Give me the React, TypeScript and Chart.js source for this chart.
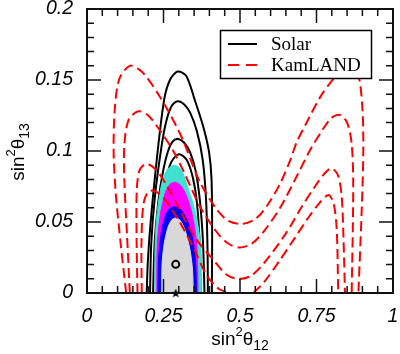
import React, { useEffect, useRef } from "react";
import { Chart, registerables } from "chart.js";
Chart.register(...registerables);

// ---- axis ticks ----
const xTickValues = [0, 0.25, 0.5, 0.75, 1];
const xTickLabels = ["0", "0.25", "0.5", "0.75", "1"];
const yTickValues = [0, 0.05, 0.1, 0.15, 0.2];
const yTickLabels = ["0", "0.05", "0.1", "0.15", "0.2"];
const xMinorStep = 0.05;
const yMinorStep = 0.01;

// ---- legend ----
const legendLabels = ["Solar", "KamLAND"];

// ---- Solar contours (sin^2 th12, sin^2 th13) ----
const solar1: [number, number][] = [
  [0.195, 0], [0.199, 0.023], [0.208, 0.05], [0.228, 0.094], [0.252, 0.136], [0.271, 0.15],
  [0.296, 0.156], [0.324, 0.153], [0.352, 0.136], [0.38, 0.117], [0.399, 0.099], [0.407, 0.08],
  [0.409, 0.04], [0.408, 0],
];
const solar2: [number, number][] = [
  [0.206, 0], [0.21, 0.035], [0.222, 0.068], [0.242, 0.101], [0.258, 0.12], [0.275, 0.131],
  [0.296, 0.135], [0.317, 0.133], [0.337, 0.127], [0.359, 0.114], [0.378, 0.094], [0.389, 0.066],
  [0.394, 0.03], [0.395, 0],
];
const solar3: [number, number][] = [
  [0.216, 0], [0.221, 0.035], [0.233, 0.064], [0.248, 0.085], [0.265, 0.1], [0.281, 0.107],
  [0.298, 0.1085], [0.317, 0.106], [0.337, 0.099], [0.355, 0.086], [0.369, 0.065], [0.379, 0.036],
  [0.384, 0],
];
const solar4: [number, number][] = [
  [0.227, 0], [0.231, 0.032], [0.241, 0.057], [0.255, 0.077], [0.275, 0.092], [0.3, 0.0977],
  [0.325, 0.094], [0.345, 0.082], [0.359, 0.064], [0.368, 0.036], [0.373, 0],
];

// ---- KamLAND contours ----
const kam1: [number, number | null][] = [
  [0.128, 0], [0.11, 0.035], [0.094, 0.07], [0.087, 0.1], [0.091, 0.13], [0.106, 0.151],
  [0.14, 0.16], [0.173, 0.157], [0.195, 0.152], [0.233, 0.14], [0.266, 0.128], [0.293, 0.117],
  [0.315, 0.107], [0.337, 0.095], [0.369, 0.078], [0.42, 0.06], [0.46, 0.051], [0.505, 0.0486],
  [0.55, 0.052], [0.59, 0.062], [0.631, 0.077], [0.665, 0.094], [0.685, 0.106], [0.725, 0.123],
  [0.765, 0.139], [0.81, 0.152], [0.855, 0.162], [0.885, 0.155], [0.9, 0.13], [0.903, 0.1],
  [0.898, 0.06], [0.887, 0],
];
const kam2: [number, number | null][] = [
  [0.14, 0], [0.131, 0.04], [0.122, 0.08], [0.122, 0.104], [0.136, 0.122], [0.168, 0.128],
  [0.2, 0.125], [0.24, 0.114], [0.282, 0.1], [0.315, 0.086], [0.369, 0.061], [0.42, 0.044],
  [0.46, 0.035], [0.5, 0.032], [0.54, 0.035], [0.58, 0.044], [0.631, 0.06], [0.685, 0.082],
  [0.73, 0.101], [0.77, 0.115], [0.8, 0.1235], [0.827, 0.1254], [0.85, 0.12], [0.865, 0.105],
  [0.87, 0.075], [0.865, 0],
];
const kam3: [number, number | null][] = [
  [0.165, 0], [0.162, 0.04], [0.163, 0.074], [0.173, 0.087], [0.195, 0.091], [0.225, 0.087],
  [0.26, 0.076], [0.3, 0.06], [0.35, 0.04], [0.418, 0.022], [0.455, 0.013], [0.494, 0.0099],
  [0.535, 0.012], [0.582, 0.022], [0.65, 0.042], [0.7, 0.06], [0.745, 0.075], [0.78, 0.085],
  [0.8, 0.0878], [0.82, 0.083], [0.832, 0.069], [0.838, 0.04], [0.843, 0],
];
const kam4: [number, number | null][] = [
  [0.179, 0], [0.178, 0.035], [0.184, 0.062], [0.199, 0.071], [0.219, 0.072], [0.25, 0.067],
  [0.3, 0.051], [0.35, 0.031], [0.391, 0.0125], [0.43, 0.003], [0.467, 0], [0.5, null],
  [0.544, 0], [0.58, 0.008], [0.63, 0.023], [0.68, 0.039], [0.72, 0.052], [0.758, 0.063],
  [0.789, 0.069], [0.806, 0.063], [0.816, 0.045], [0.821, 0],
];
const kamBase: [number, number][] = [[0.118, 0], [0.882, 0]];

// ---- combined allowed regions ----
const regionCyan: [number, number][] = [
  [0.222, 0], [0.222, 0.03], [0.228, 0.054], [0.244, 0.077], [0.261, 0.0865], [0.282, 0.09],
  [0.301, 0.0885], [0.316, 0.083], [0.33, 0.074], [0.345, 0.064], [0.36, 0.051],
  [0.372, 0.032], [0.375, 0],
];
const regionMagenta: [number, number][] = [
  [0.228, 0], [0.229, 0.03], [0.238, 0.053], [0.255, 0.07], [0.271, 0.0765], [0.288, 0.078],
  [0.307, 0.0755], [0.327, 0.0675], [0.346, 0.053], [0.359, 0.033], [0.363, 0],
];
const regionBlue: [number, number][] = [
  [0.232, 0], [0.234, 0.0232], [0.242, 0.0415], [0.258, 0.0555], [0.272, 0.0598], [0.288, 0.0606],
  [0.307, 0.0585], [0.327, 0.0514], [0.346, 0.0373], [0.355, 0.021], [0.358, 0],
];
const regionGray: [number, number][] = [
  [0.244, 0], [0.245, 0.0197], [0.252, 0.0345], [0.265, 0.0465], [0.278, 0.0517], [0.29, 0.0528],
  [0.304, 0.0512], [0.32, 0.0444], [0.336, 0.031], [0.345, 0.016], [0.347, 0],
];
const bestFitCombined: [number, number][] = [[0.29, 0.0202]];
const bestFitStar: [number, number][] = [[0.29, 0]];

const toXY = (a: [number, number | null][]) => a.map(([x, y]) => ({ x, y }));

const SANS = "'Liberation Sans', Arial, Helvetica, sans-serif";
const SERIF = "'Liberation Serif', 'Times New Roman', serif";

function drawParts(ctx: CanvasRenderingContext2D, parts: { t: string; s: number; dy: number }[], cx: number, cy: number) {
  let w = 0;
  for (const p of parts) { ctx.font = `${p.s}px ${SANS}`; w += ctx.measureText(p.t).width; }
  let x = cx - w / 2;
  ctx.textBaseline = "alphabetic";
  ctx.textAlign = "left";
  for (const p of parts) {
    ctx.font = `${p.s}px ${SANS}`;
    ctx.fillText(p.t, x, cy + p.dy);
    x += ctx.measureText(p.t).width;
  }
}

const decor = {
  id: "decor",
  afterDraw(chart: any) {
    const ctx: CanvasRenderingContext2D = chart.ctx;
    const { left, right, top, bottom } = chart.chartArea;
    const xs = chart.scales.x, ys = chart.scales.y;
    ctx.save();
    // ticks
    ctx.strokeStyle = "#111";
    ctx.lineWidth = 1.5;
    ctx.beginPath();
    for (let i = 0; i <= 20; i++) {
      const p = xs.getPixelForValue(i * xMinorStep);
      const len = i % 5 === 0 ? 14 : 7;
      ctx.moveTo(p, bottom); ctx.lineTo(p, bottom - len);
      ctx.moveTo(p, top); ctx.lineTo(p, top + len);
    }
    for (let i = 0; i <= 20; i++) {
      const p = ys.getPixelForValue(i * yMinorStep);
      const len = i % 5 === 0 ? 14 : 7;
      ctx.moveTo(left, p); ctx.lineTo(left + len, p);
      ctx.moveTo(right, p); ctx.lineTo(right - len, p);
    }
    ctx.stroke();
    ctx.lineWidth = 2;
    ctx.strokeRect(left, top, right - left, bottom - top);

    // legend
    const lx = 220, ly = 30, lw = 152, lh = 49;
    ctx.fillStyle = "#fff";
    ctx.fillRect(lx, ly, lw, lh);
    ctx.lineWidth = 1.5;
    ctx.strokeStyle = "#000";
    ctx.strokeRect(lx + 0.5, ly + 0.5, lw - 1, lh - 1);
    const rows = [ly + 14, ly + 35];
    ctx.lineWidth = 2;
    ctx.beginPath(); ctx.strokeStyle = "#000"; ctx.setLineDash([]);
    ctx.moveTo(lx + 8, rows[0]); ctx.lineTo(lx + 37, rows[0]); ctx.stroke();
    ctx.beginPath(); ctx.strokeStyle = "#ff0000"; ctx.setLineDash([11, 7]);
    ctx.moveTo(lx + 8, rows[1]); ctx.lineTo(lx + 37, rows[1]); ctx.stroke();
    ctx.setLineDash([]);
    ctx.fillStyle = "#000";
    ctx.font = `19px ${SERIF}`;
    ctx.textBaseline = "middle";
    ctx.textAlign = "left";
    ctx.fillText(legendLabels[0], lx + 51, rows[0] + 1);
    ctx.fillText(legendLabels[1], lx + 51, rows[1] + 1);

    // axis titles
    ctx.fillStyle = "#000";
    drawParts(ctx, [
      { t: "sin", s: 19, dy: 0 }, { t: "2", s: 13, dy: -9 }, { t: "θ", s: 19, dy: 0 }, { t: "12", s: 14, dy: 5 },
    ], 240, 345);
    ctx.save();
    ctx.translate(24, 152);
    ctx.rotate(-Math.PI / 2);
    drawParts(ctx, [
      { t: "sin", s: 19, dy: 0 }, { t: "2", s: 13, dy: -9 }, { t: "θ", s: 19, dy: 0 }, { t: "13", s: 14, dy: 5 },
    ], 0, 0);
    ctx.restore();
    ctx.restore();
  },
};

function makeStar(size: number) {
  const c = document.createElement("canvas");
  c.width = size; c.height = size;
  const g = c.getContext("2d")!;
  const cx = size / 2, cy = size / 2 + 0.5, R = size / 2, r = R * 0.42;
  g.beginPath();
  for (let i = 0; i < 10; i++) {
    const a = -Math.PI / 2 + (i * Math.PI) / 5;
    const rr = i % 2 === 0 ? R : r;
    g.lineTo(cx + rr * Math.cos(a), cy + rr * Math.sin(a));
  }
  g.closePath();
  g.fillStyle = "#000";
  g.fill();
  return c;
}

export default function App() {
  const ref = useRef<HTMLCanvasElement>(null);
  useEffect(() => {
    if (!ref.current) return;
    const solarStyle = { borderColor: "#000", borderWidth: 2, pointRadius: 0, fill: false, tension: 0.3, order: 10 };
    const kamStyle = { borderColor: "#ff0000", borderWidth: 2, borderDash: [10, 5], pointRadius: 0, fill: false, tension: 0.3, order: 2, spanGaps: false };
    const regionStyle = (c: string, order: number) => ({ borderColor: c, backgroundColor: c, borderWidth: 1, pointRadius: 0, fill: "origin", tension: 0.3, order });
    const chart = new Chart(ref.current, {
      type: "line",
      data: {
        datasets: [
          { label: "best fit", data: toXY(bestFitCombined), showLine: false, pointStyle: "circle", pointRadius: 3.5, pointBorderWidth: 2, pointBorderColor: "#000", pointBackgroundColor: "rgba(0,0,0,0)", order: 0 } as any,
          { label: "solar best", data: toXY(bestFitStar), showLine: false, pointStyle: makeStar(10), pointRadius: 5, order: 0, clip: false } as any,
          { label: "KamLAND 1", data: toXY(kam1), ...kamStyle } as any,
          { label: "KamLAND 2", data: toXY(kam2), ...kamStyle } as any,
          { label: "KamLAND 3", data: toXY(kam3), ...kamStyle } as any,
          { label: "KamLAND 4", data: toXY(kam4), ...kamStyle } as any,
          { label: "base", data: toXY(kamBase), borderColor: "#8b0000", borderWidth: 2, pointRadius: 0, order: 1 } as any,
          { label: "gray", data: toXY(regionGray), ...regionStyle("#d8d8d8", 3) } as any,
          { label: "blue", data: toXY(regionBlue), ...regionStyle("#0000ff", 4) } as any,
          { label: "magenta", data: toXY(regionMagenta), ...regionStyle("#ff00ff", 5) } as any,
          { label: "cyan", data: toXY(regionCyan), ...regionStyle("#40e0d0", 6) } as any,
          { label: "Solar 1", data: toXY(solar1), ...solarStyle } as any,
          { label: "Solar 2", data: toXY(solar2), ...solarStyle } as any,
          { label: "Solar 3", data: toXY(solar3), ...solarStyle } as any,
          { label: "Solar 4", data: toXY(solar4), ...solarStyle } as any,
        ],
      },
      options: {
        responsive: false,
        animation: false,
        events: [],
        layout: { padding: { left: 0, top: 9, right: 7, bottom: 0 } },
        plugins: { legend: { display: false }, tooltip: { enabled: false }, filler: { propagate: false } },
        scales: {
          x: {
            type: "linear", min: 0, max: 1,
            grid: { display: false }, border: { display: false },
            afterBuildTicks: (s: any) => { s.ticks = xTickValues.map((v) => ({ value: v })); },
            afterFit: (s: any) => { s.height = 61; s.paddingLeft = 0; s.paddingRight = 0; },
            ticks: {
              autoSkip: false, maxRotation: 0, padding: 4, color: "#000",
              font: { family: SANS, size: 19.5, style: "italic" },
              callback: (_v: any, i: number) => xTickLabels[i],
            },
          },
          y: {
            type: "linear", min: 0, max: 0.2,
            grid: { display: false }, border: { display: false },
            afterBuildTicks: (s: any) => { s.ticks = yTickValues.map((v) => ({ value: v })); },
            afterFit: (s: any) => { s.width = 87; s.paddingTop = 0; s.paddingBottom = 0; },
            ticks: {
              autoSkip: false, padding: 6, color: "#000",
              font: { family: SANS, size: 19.5, style: "italic" },
              callback: (_v: any, i: number) => yTickLabels[i],
            },
          },
        },
      } as any,
      plugins: [decor],
    });
    return () => chart.destroy();
  }, []);
  return (
    <div style={{ position: "absolute", left: 0, top: 0, width: 400, height: 354, background: "#fff" }}>
      <canvas ref={ref} width={400} height={354} />
    </div>
  );
}
